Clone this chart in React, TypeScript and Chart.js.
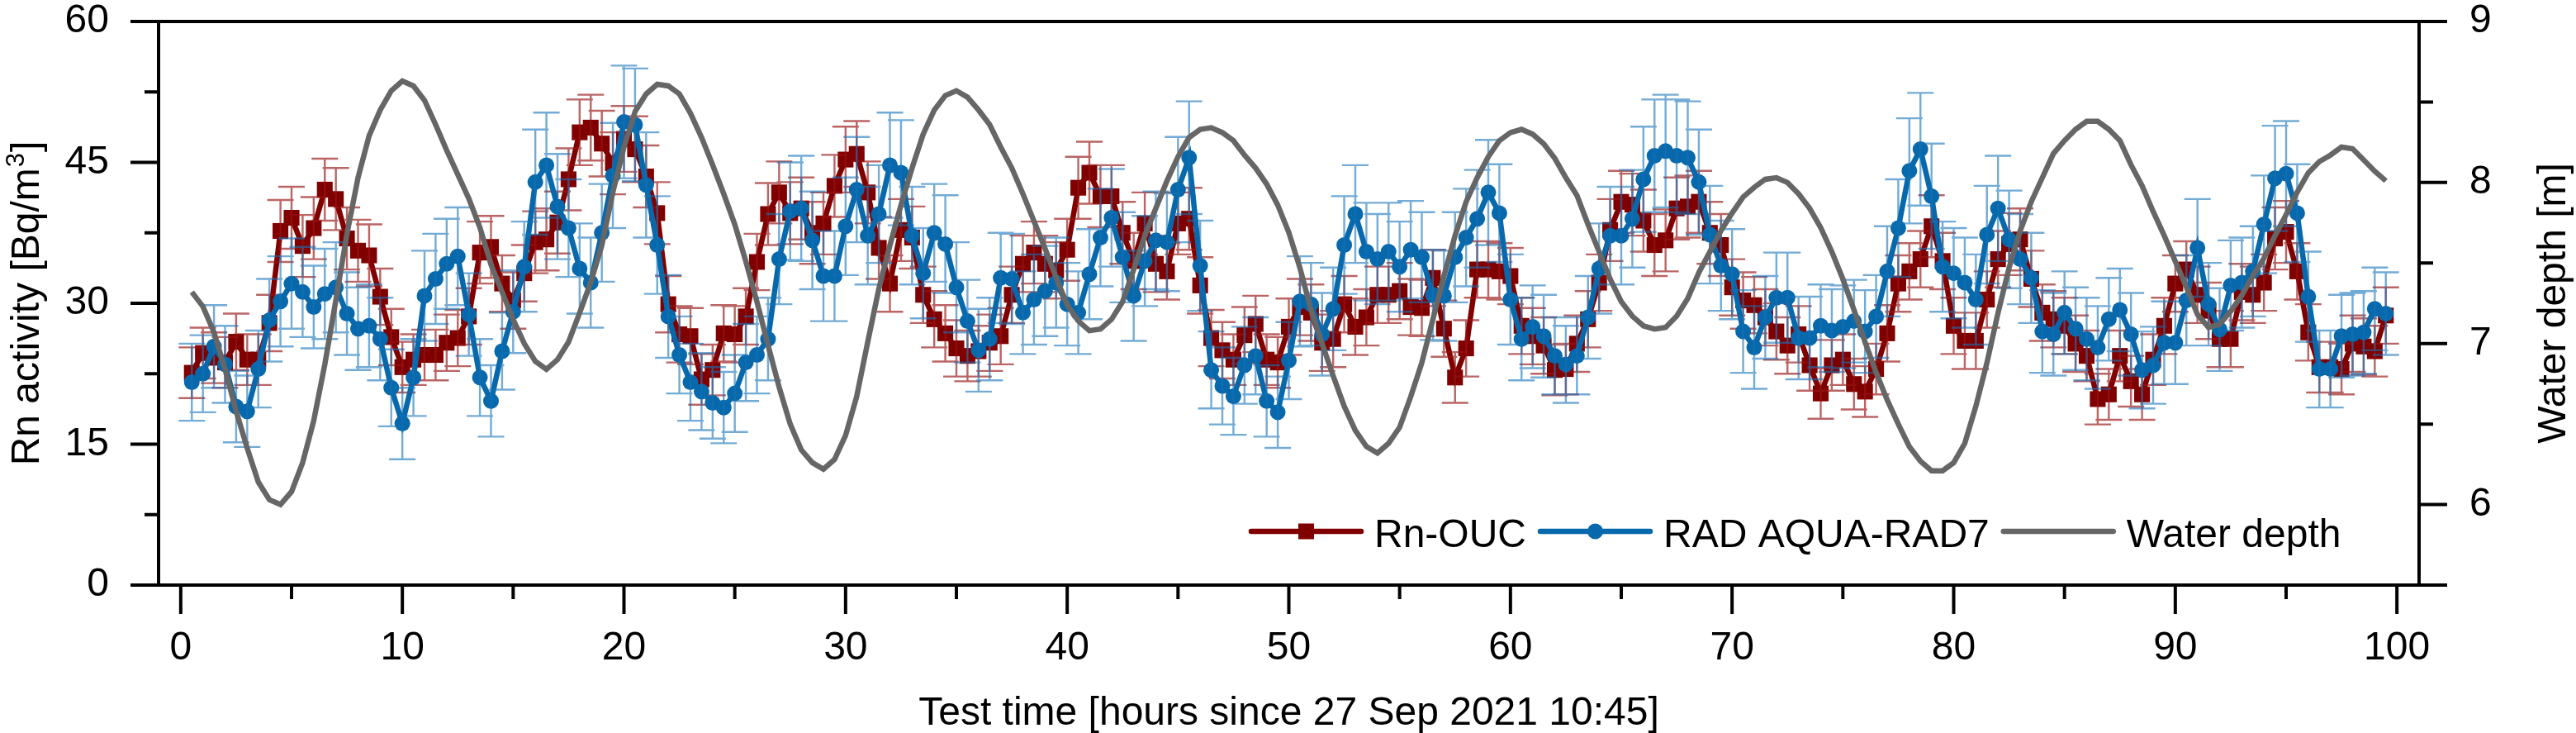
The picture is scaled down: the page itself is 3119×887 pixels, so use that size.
import React, { useEffect, useRef } from "react";
import { Chart, registerables } from "chart.js";

Chart.register(...registerables);

// ---------------- data ----------------
const HOURS = [
  0.5, 1, 1.5, 2, 2.5, 3, 3.5, 4, 4.5, 5,
  5.5, 6, 6.5, 7, 7.5, 8, 8.5, 9, 9.5, 10,
  10.5, 11, 11.5, 12, 12.5, 13, 13.5, 14, 14.5, 15,
  15.5, 16, 16.5, 17, 17.5, 18, 18.5, 19, 19.5, 20,
  20.5, 21, 21.5, 22, 22.5, 23, 23.5, 24, 24.5, 25,
  25.5, 26, 26.5, 27, 27.5, 28, 28.5, 29, 29.5, 30,
  30.5, 31, 31.5, 32, 32.5, 33, 33.5, 34, 34.5, 35,
  35.5, 36, 36.5, 37, 37.5, 38, 38.5, 39, 39.5, 40,
  40.5, 41, 41.5, 42, 42.5, 43, 43.5, 44, 44.5, 45,
  45.5, 46, 46.5, 47, 47.5, 48, 48.5, 49, 49.5, 50,
  50.5, 51, 51.5, 52, 52.5, 53, 53.5, 54, 54.5, 55,
  55.5, 56, 56.5, 57, 57.5, 58, 58.5, 59, 59.5, 60,
  60.5, 61, 61.5, 62, 62.5, 63, 63.5, 64, 64.5, 65,
  65.5, 66, 66.5, 67, 67.5, 68, 68.5, 69, 69.5, 70,
  70.5, 71, 71.5, 72, 72.5, 73, 73.5, 74, 74.5, 75,
  75.5, 76, 76.5, 77, 77.5, 78, 78.5, 79, 79.5, 80,
  80.5, 81, 81.5, 82, 82.5, 83, 83.5, 84, 84.5, 85,
  85.5, 86, 86.5, 87, 87.5, 88, 88.5, 89, 89.5, 90,
  90.5, 91, 91.5, 92, 92.5, 93, 93.5, 94, 94.5, 95,
  95.5, 96, 96.5, 97, 97.5, 98, 98.5, 99, 99.5,
];

const RN_OUC = [
  22.6, 24.7, 24.2, 23.7, 25.9, 24.0, 24.0, 27.9, 37.7, 39.1,
  36.1, 38.0, 42.1, 41.1, 36.9, 35.6, 35.1, 30.7, 26.4, 23.2,
  24.0, 24.5, 24.5, 25.8, 26.3, 28.6, 35.4, 36.0, 32.1, 30.3,
  33.2, 36.5, 36.8, 38.6, 43.2, 48.2, 48.7, 47.0, 44.9, 47.5,
  46.4, 43.5, 39.6, 29.9, 26.7, 26.5, 21.9, 22.9, 26.8, 26.7,
  28.6, 34.4, 39.5, 41.8, 39.6, 40.1, 37.5, 38.5, 42.5, 45.3,
  45.9, 41.8, 35.9, 32.1, 37.8, 37.0, 30.9, 28.3, 26.8, 25.2,
  24.4, 24.9, 25.8, 26.5, 30.9, 34.2, 35.4, 34.2, 33.5, 35.7,
  42.3, 43.9, 41.4, 41.4, 37.5, 34.5, 38.5, 34.2, 33.4, 38.5,
  39.0, 31.9, 26.3, 25.0, 24.0, 26.6, 27.8, 24.0, 23.7, 27.5,
  29.6, 29.0, 25.8, 26.2, 29.9, 27.5, 28.5, 30.9, 30.9, 31.3,
  29.6, 29.5, 32.7, 27.3, 22.1, 25.2, 33.6, 33.6, 33.4, 32.9,
  27.6, 26.5, 25.5, 22.9, 23.0, 25.7, 28.3, 32.2, 37.8, 40.8,
  40.5, 38.8, 36.2, 36.7, 40.1, 40.3, 40.8, 37.5, 36.2, 31.7,
  30.3, 29.8, 28.5, 27.0, 25.5, 26.7, 23.4, 20.4, 23.4, 24.0,
  21.4, 20.6, 23.0, 26.8, 32.1, 33.4, 34.7, 38.2, 34.5, 27.6,
  26.0, 26.0, 30.4, 34.7, 36.3, 36.8, 32.6, 29.0, 28.3, 27.6,
  25.7, 24.4, 19.8, 20.3, 24.4, 21.7, 20.3, 24.0, 27.6, 32.1,
  33.6, 30.9, 29.2, 26.2, 26.2, 31.2, 30.9, 32.2, 36.9, 37.6,
  33.4, 26.9, 23.2, 23.2, 23.0, 25.7, 25.4, 24.9, 28.7,
];

const RN_OUC_ERR = [
  2.7, 2.7, 2.7, 2.7, 3.0, 2.7, 2.7, 3.0, 3.3, 3.3,
  3.3, 3.3, 3.3, 3.3, 3.3, 3.3, 3.3, 3.0, 3.0, 2.7,
  2.7, 2.7, 2.7, 3.0, 3.0, 3.0, 3.3, 3.3, 3.0, 3.0,
  3.0, 3.3, 3.3, 3.3, 3.3, 3.5, 3.5, 3.5, 3.3, 3.5,
  3.5, 3.3, 3.3, 3.0, 3.0, 3.0, 2.7, 2.7, 3.0, 3.0,
  3.0, 3.0, 3.3, 3.3, 3.3, 3.3, 3.3, 3.3, 3.3, 3.5,
  3.5, 3.3, 3.3, 3.0, 3.3, 3.3, 3.0, 3.0, 3.0, 3.0,
  2.7, 2.7, 3.0, 3.0, 3.0, 3.0, 3.3, 3.0, 3.0, 3.3,
  3.3, 3.3, 3.3, 3.3, 3.3, 3.0, 3.3, 3.0, 3.0, 3.3,
  3.3, 3.0, 3.0, 3.0, 2.7, 3.0, 3.0, 2.7, 2.7, 3.0,
  3.0, 3.0, 3.0, 3.0, 3.0, 3.0, 3.0, 3.0, 3.0, 3.0,
  3.0, 3.0, 3.0, 3.0, 2.7, 3.0, 3.0, 3.0, 3.0, 3.0,
  3.0, 3.0, 3.0, 2.7, 2.7, 3.0, 3.0, 3.0, 3.3, 3.3,
  3.3, 3.3, 3.3, 3.3, 3.3, 3.3, 3.3, 3.3, 3.3, 3.0,
  3.0, 3.0, 3.0, 3.0, 3.0, 3.0, 2.7, 2.7, 2.7, 2.7,
  2.7, 2.7, 2.7, 3.0, 3.0, 3.0, 3.0, 3.3, 3.0, 3.0,
  3.0, 3.0, 3.0, 3.0, 3.3, 3.3, 3.0, 3.0, 3.0, 3.0,
  3.0, 2.7, 2.7, 2.7, 2.7, 2.7, 2.7, 2.7, 3.0, 3.0,
  3.0, 3.0, 3.0, 3.0, 3.0, 3.0, 3.0, 3.0, 3.3, 3.3,
  3.0, 3.0, 2.7, 2.7, 2.7, 3.0, 3.0, 2.7, 3.0,
];

const RAD7 = [
  21.6, 22.5, 25.4, 23.5, 19.0, 18.5, 23.0, 28.2, 30.2, 32.1,
  31.2, 29.6, 31.0, 31.7, 28.9, 27.3, 27.6, 26.2, 21.0, 17.2,
  22.1, 30.8, 32.6, 34.2, 35.0, 28.8, 22.1, 19.6, 24.9, 29.1,
  33.9, 42.9, 44.7, 40.3, 38.0, 33.7, 32.2, 37.5, 43.6, 49.3,
  49.0, 42.6, 36.2, 28.6, 24.5, 21.6, 20.6, 19.4, 18.9, 20.4,
  23.7, 24.5, 26.2, 34.7, 39.8, 40.1, 36.7, 32.9, 32.9, 38.2,
  42.1, 37.2, 39.5, 44.7, 43.9, 37.2, 33.2, 37.5, 36.3, 31.7,
  28.1, 25.0, 26.2, 32.7, 32.6, 29.0, 30.4, 31.3, 32.2, 29.9,
  29.0, 33.1, 37.0, 39.1, 34.9, 30.8, 34.5, 36.7, 36.5, 42.1,
  45.5, 34.0, 22.9, 21.2, 20.1, 23.4, 24.4, 19.6, 18.4, 23.9,
  30.2, 29.9, 26.7, 29.4, 36.2, 39.5, 35.5, 34.7, 35.5, 33.9,
  35.7, 34.9, 30.9, 30.8, 34.9, 37.0, 39.0, 41.8, 39.6, 30.4,
  26.2, 27.5, 26.5, 24.4, 23.5, 24.4, 28.5, 33.7, 37.2, 37.2,
  39.0, 43.2, 45.7, 46.2, 45.7, 45.5, 42.9, 37.3, 34.0, 33.1,
  27.0, 25.3, 28.5, 30.6, 30.6, 26.3, 26.3, 27.6, 27.1, 27.5,
  28.1, 27.0, 28.6, 33.4, 38.0, 44.1, 46.4, 41.4, 33.9, 33.2,
  32.2, 30.4, 37.3, 40.1, 36.8, 34.7, 32.7, 27.0, 26.7, 29.0,
  27.3, 26.2, 25.3, 28.3, 29.3, 26.7, 22.9, 23.4, 25.8, 25.8,
  30.3, 35.9, 29.9, 27.2, 31.9, 32.2, 33.4, 38.4, 43.3, 43.8,
  39.6, 30.7, 23.0, 23.0, 26.5, 26.7, 26.9, 29.4, 28.9,
];

const RAD7_ERR = [
  4.1, 4.1, 4.4, 4.1, 3.8, 3.8, 4.1, 4.4, 4.8, 4.8,
  4.8, 4.4, 4.8, 4.8, 4.4, 4.4, 4.4, 4.4, 4.1, 3.8,
  4.1, 4.8, 4.8, 4.8, 5.2, 4.4, 4.1, 3.8, 4.1, 4.4,
  4.8, 5.6, 5.6, 5.6, 5.2, 4.8, 4.8, 5.2, 5.6, 6.0,
  6.0, 5.6, 5.2, 4.4, 4.1, 4.1, 4.1, 3.8, 3.8, 4.1,
  4.1, 4.1, 4.4, 4.8, 5.2, 5.6, 5.2, 4.8, 4.8, 5.2,
  5.6, 5.2, 5.2, 5.6, 5.6, 5.2, 4.8, 5.2, 5.2, 4.8,
  4.4, 4.4, 4.4, 4.8, 4.8, 4.4, 4.8, 4.8, 4.8, 4.4,
  4.4, 4.8, 5.2, 5.2, 4.8, 4.8, 4.8, 5.2, 5.2, 5.6,
  6.0, 4.8, 4.1, 4.1, 4.1, 4.1, 4.1, 3.8, 3.8, 4.1,
  4.8, 4.4, 4.4, 4.4, 5.2, 5.2, 5.2, 4.8, 5.2, 4.8,
  5.2, 4.8, 4.8, 4.8, 4.8, 5.2, 5.2, 5.6, 5.2, 4.8,
  4.4, 4.4, 4.4, 4.1, 4.1, 4.1, 4.4, 4.8, 5.2, 5.2,
  5.2, 5.6, 6.0, 6.0, 6.0, 6.0, 5.6, 5.2, 4.8, 4.8,
  4.4, 4.4, 4.4, 4.8, 4.8, 4.4, 4.4, 4.4, 4.4, 4.4,
  4.4, 4.4, 4.4, 4.8, 5.2, 5.6, 6.0, 5.6, 4.8, 4.8,
  4.8, 4.8, 5.2, 5.6, 5.2, 4.8, 4.8, 4.4, 4.4, 4.4,
  4.4, 4.4, 4.4, 4.4, 4.4, 4.4, 4.1, 4.1, 4.4, 4.4,
  4.8, 5.2, 4.4, 4.4, 4.8, 4.8, 4.8, 5.2, 5.6, 5.6,
  5.2, 4.8, 4.1, 4.1, 4.4, 4.4, 4.4, 4.4, 4.4,
];

const WATER_DEPTH = [
  7.32, 7.23, 7.07, 6.84, 6.58, 6.35, 6.14, 6.03, 6.00, 6.08,
  6.26, 6.52, 6.87, 7.27, 7.68, 8.03, 8.29, 8.45, 8.57, 8.63,
  8.60, 8.51, 8.36, 8.20, 8.05, 7.90, 7.72, 7.49, 7.32, 7.15,
  7.00, 6.89, 6.84, 6.90, 7.01, 7.19, 7.38, 7.61, 7.94, 8.22,
  8.44, 8.55, 8.61, 8.60, 8.55, 8.43, 8.28, 8.11, 7.93, 7.74,
  7.51, 7.26, 6.99, 6.73, 6.50, 6.34, 6.26, 6.22, 6.28, 6.43,
  6.67, 7.01, 7.34, 7.61, 7.86, 8.09, 8.30, 8.45, 8.54, 8.57,
  8.53, 8.45, 8.36, 8.22, 8.09, 7.93, 7.76, 7.59, 7.41, 7.24,
  7.14, 7.08, 7.09, 7.15, 7.26, 7.46, 7.67, 7.84, 8.01, 8.16,
  8.28, 8.33, 8.34, 8.31, 8.26, 8.17, 8.09, 7.99, 7.86, 7.69,
  7.47, 7.21, 7.00, 6.80, 6.61, 6.46, 6.36, 6.32, 6.38, 6.48,
  6.67, 6.88, 7.15, 7.42, 7.67, 7.88, 8.03, 8.16, 8.26, 8.31,
  8.33, 8.30, 8.24, 8.15, 8.03, 7.92, 7.74, 7.57, 7.40, 7.26,
  7.17, 7.11, 7.09, 7.10, 7.17, 7.28, 7.44, 7.57, 7.70, 7.81,
  7.91, 7.97, 8.02, 8.03, 8.00, 7.93, 7.84, 7.72, 7.57, 7.40,
  7.21, 7.01, 6.82, 6.65, 6.50, 6.36, 6.27, 6.21, 6.21, 6.26,
  6.38, 6.61, 6.88, 7.19, 7.47, 7.70, 7.88, 8.03, 8.18, 8.26,
  8.33, 8.38, 8.38, 8.33, 8.26, 8.11, 7.98, 7.82, 7.67, 7.51,
  7.35, 7.18, 7.10, 7.12, 7.20, 7.30, 7.42, 7.53, 7.67, 7.80,
  7.94, 8.06, 8.13, 8.17, 8.22, 8.21, 8.14, 8.07, 8.01,
];

const SERIES_NAMES = ["Rn-OUC", "RAD AQUA-RAD7", "Water depth"];

const X_MAJOR_TICKS = [0, 10, 20, 30, 40, 50, 60, 70, 80, 90, 100];
const X_MINOR_TICKS = [5, 15, 25, 35, 45, 55, 65, 75, 85, 95];
const Y_MAJOR_TICKS = [0, 15, 30, 45, 60];
const Y_MINOR_TICKS = [7.5, 22.5, 37.5, 52.5];
const Y2_MAJOR_TICKS = [6, 7, 8, 9];
const Y2_MINOR_TICKS = [6.5, 7.5, 8.5];

const X_TITLE = "Test time [hours since 27 Sep 2021 10:45]";
const Y_TITLE_MAIN = "Rn activity [Bq/m";
const Y_TITLE_SUP = "3";
const Y_TITLE_END = "]";
const Y2_TITLE = "Water depth [m]";

// ---------------- styling ----------------
const W = 3119;
const H = 887;
const FONT = "'Liberation Sans', Arial, Helvetica, sans-serif";
const RED = "#800000";
const BLUE = "#0768ab";
const GRAY = "#666666";
const RED_ERR = "rgba(150, 20, 20, 0.66)";
const BLUE_ERR = "rgba(20, 115, 185, 0.6)";

const errorBarsPlugin = {
  id: "errorBars",
  afterDatasetDraw(chart: any, args: any) {
    const ds: any = chart.data.datasets[args.index];
    if (!ds.errors) return;
    const ctx = chart.ctx;
    const xs = chart.scales.x;
    const ys = chart.scales[ds.yAxisID];
    const cap = 16;
    ctx.save();
    ctx.strokeStyle = ds.errorColor;
    ctx.lineWidth = 2.4;
    ctx.beginPath();
    ds.data.forEach((p: any, i: number) => {
      const e = ds.errors[i];
      const x = xs.getPixelForValue(p.x);
      const yt = ys.getPixelForValue(p.y + e);
      const yb = ys.getPixelForValue(p.y - e);
      ctx.moveTo(x, yt);
      ctx.lineTo(x, yb);
      ctx.moveTo(x - cap, yt);
      ctx.lineTo(x + cap, yt);
      ctx.moveTo(x - cap, yb);
      ctx.lineTo(x + cap, yb);
    });
    ctx.stroke();
    ctx.restore();
  },
};

const framePlugin = {
  id: "frameTicksTitlesLegend",
  afterDraw(chart: any) {
    const ctx = chart.ctx;
    const { left, right, top, bottom } = chart.chartArea;
    const xs = chart.scales.x;
    const ys = chart.scales.y;
    const y2 = chart.scales.y1;
    const MAJ = 34;
    const MIN = 17;
    ctx.save();
    ctx.strokeStyle = "#000";
    ctx.lineWidth = 4;
    ctx.lineCap = "butt";
    ctx.beginPath();
    ctx.moveTo(left - MAJ, top);
    ctx.lineTo(right + MAJ, top);
    ctx.moveTo(left - MAJ, bottom);
    ctx.lineTo(right + MAJ, bottom);
    ctx.moveTo(left, top - 2);
    ctx.lineTo(left, bottom + 2);
    ctx.moveTo(right, top - 2);
    ctx.lineTo(right, bottom + 2);
    Y_MAJOR_TICKS.forEach((v) => {
      const y = ys.getPixelForValue(v);
      ctx.moveTo(left - MAJ, y);
      ctx.lineTo(left, y);
    });
    Y_MINOR_TICKS.forEach((v) => {
      const y = ys.getPixelForValue(v);
      ctx.moveTo(left - MIN, y);
      ctx.lineTo(left, y);
    });
    Y2_MAJOR_TICKS.forEach((v) => {
      const y = y2.getPixelForValue(v);
      ctx.moveTo(right, y);
      ctx.lineTo(right + MAJ, y);
    });
    Y2_MINOR_TICKS.forEach((v) => {
      const y = y2.getPixelForValue(v);
      ctx.moveTo(right, y);
      ctx.lineTo(right + MIN, y);
    });
    X_MAJOR_TICKS.forEach((v) => {
      const x = xs.getPixelForValue(v);
      ctx.moveTo(x, bottom);
      ctx.lineTo(x, bottom + MAJ + 1);
    });
    X_MINOR_TICKS.forEach((v) => {
      const x = xs.getPixelForValue(v);
      ctx.moveTo(x, bottom);
      ctx.lineTo(x, bottom + MIN);
    });
    ctx.stroke();

    ctx.fillStyle = "#000";
    ctx.font = `48px ${FONT}`;
    ctx.textBaseline = "alphabetic";
    ctx.textAlign = "center";
    ctx.fillText(X_TITLE, (left + right) / 2, 877);

    const midY = (top + bottom) / 2;
    ctx.save();
    ctx.translate(47, midY);
    ctx.rotate(-Math.PI / 2);
    ctx.textAlign = "left";
    ctx.font = `48px ${FONT}`;
    const wMain = ctx.measureText(Y_TITLE_MAIN).width;
    const wEnd = ctx.measureText(Y_TITLE_END).width;
    ctx.font = `31px ${FONT}`;
    const wSup = ctx.measureText(Y_TITLE_SUP).width;
    const total = wMain + wSup + wEnd + 2;
    let tx = -total / 2;
    ctx.font = `48px ${FONT}`;
    ctx.fillText(Y_TITLE_MAIN, tx, 0);
    tx += wMain + 1;
    ctx.font = `31px ${FONT}`;
    ctx.fillText(Y_TITLE_SUP, tx, -18);
    tx += wSup + 1;
    ctx.font = `48px ${FONT}`;
    ctx.fillText(Y_TITLE_END, tx, 0);
    ctx.restore();

    ctx.save();
    ctx.translate(3106, midY);
    ctx.rotate(-Math.PI / 2);
    ctx.textAlign = "center";
    ctx.font = `48px ${FONT}`;
    ctx.fillText(Y2_TITLE, 0, 0);
    ctx.restore();

    const legendY = bottom - 65;
    let lx = left + 1320;
    const lineLen = 139;
    const items = [
      { name: SERIES_NAMES[0], color: RED, marker: "rect" },
      { name: SERIES_NAMES[1], color: BLUE, marker: "circle" },
      { name: SERIES_NAMES[2], color: GRAY, marker: "" },
    ];
    ctx.font = `48px ${FONT}`;
    ctx.textAlign = "left";
    ctx.textBaseline = "alphabetic";
    items.forEach((it) => {
      ctx.strokeStyle = it.color;
      ctx.lineWidth = 6.5;
      ctx.lineCap = "round";
      ctx.beginPath();
      ctx.moveTo(lx + 3, legendY);
      ctx.lineTo(lx + lineLen - 3, legendY);
      ctx.stroke();
      const cx = lx + lineLen / 2;
      ctx.fillStyle = it.color;
      if (it.marker === "rect") {
        ctx.fillRect(cx - 9.5, legendY - 9.5, 19, 19);
      } else if (it.marker === "circle") {
        ctx.beginPath();
        ctx.arc(cx, legendY, 9.5, 0, Math.PI * 2);
        ctx.fill();
      }
      ctx.fillStyle = "#000";
      const textX = lx + lineLen + 13;
      ctx.fillText(it.name, textX, legendY + 19);
      lx = textX + ctx.measureText(it.name).width + 14;
    });
    ctx.restore();
  },
};

function toPoints(values: number[]) {
  return HOURS.map((h, i) => ({ x: h, y: values[i] }));
}

export default function App() {
  const canvasRef = useRef<HTMLCanvasElement | null>(null);

  useEffect(() => {
    document.body.style.margin = "0";
    document.body.style.background = "#ffffff";
    const canvas = canvasRef.current;
    if (!canvas) return;

    const tickFont = { size: 48, family: FONT, lineHeight: 1 };

    const chart = new Chart(canvas, {
      type: "line",
      data: {
        datasets: [
          {
            label: SERIES_NAMES[2],
            data: toPoints(WATER_DEPTH),
            yAxisID: "y1",
            borderColor: GRAY,
            backgroundColor: GRAY,
            borderWidth: 6.5,
            pointRadius: 0,
            tension: 0,
            order: 0,
          },
          {
            label: SERIES_NAMES[1],
            data: toPoints(RAD7),
            yAxisID: "y",
            borderColor: BLUE,
            backgroundColor: BLUE,
            borderWidth: 6.5,
            pointStyle: "circle",
            pointRadius: 9.5,
            pointBorderWidth: 0,
            pointBackgroundColor: BLUE,
            tension: 0,
            order: 1,
            errors: RAD7_ERR,
            errorColor: BLUE_ERR,
          } as any,
          {
            label: SERIES_NAMES[0],
            data: toPoints(RN_OUC),
            yAxisID: "y",
            borderColor: RED,
            backgroundColor: RED,
            borderWidth: 6.5,
            pointStyle: "rect",
            pointRadius: 13.5,
            pointBorderWidth: 0,
            pointBackgroundColor: RED,
            tension: 0,
            order: 2,
            errors: RN_OUC_ERR,
            errorColor: RED_ERR,
          } as any,
        ],
      },
      options: {
        responsive: false,
        maintainAspectRatio: false,
        animation: false,
        events: [],
        layout: { padding: { top: 26, left: 0, right: 0, bottom: 0 } },
        plugins: {
          legend: { display: false },
          tooltip: { enabled: false },
          title: { display: false },
        },
        scales: {
          x: {
            type: "linear",
            position: "bottom",
            min: -1,
            max: 101,
            grid: { display: false, drawTicks: false },
            border: { display: false },
            afterBuildTicks: (s: any) => {
              s.ticks = X_MAJOR_TICKS.map((v) => ({ value: v }));
            },
            afterFit: (s: any) => {
              s.height = H - 708;
              s.paddingLeft = 0;
              s.paddingRight = 0;
            },
            ticks: {
              color: "#000",
              font: tickFont,
              padding: 53,
              autoSkip: false,
              maxRotation: 0,
              minRotation: 0,
            },
          },
          y: {
            type: "linear",
            position: "left",
            min: 0,
            max: 60,
            grid: { display: false, drawTicks: false },
            border: { display: false },
            afterBuildTicks: (s: any) => {
              s.ticks = Y_MAJOR_TICKS.map((v) => ({ value: v }));
            },
            afterFit: (s: any) => {
              s.width = 192;
              s.paddingTop = 0;
              s.paddingBottom = 0;
            },
            ticks: { color: "#000", font: tickFont, padding: 60, autoSkip: false },
          },
          y1: {
            type: "linear",
            position: "right",
            min: 5.5,
            max: 9,
            grid: { display: false, drawTicks: false },
            border: { display: false },
            afterBuildTicks: (s: any) => {
              s.ticks = Y2_MAJOR_TICKS.map((v) => ({ value: v }));
            },
            afterFit: (s: any) => {
              s.width = W - 2929;
              s.paddingTop = 0;
              s.paddingBottom = 0;
            },
            ticks: { color: "#000", font: tickFont, padding: 61, autoSkip: false },
          },
        },
      },
      plugins: [errorBarsPlugin, framePlugin],
    } as any);

    return () => {
      chart.destroy();
    };
  }, []);

  return (
    <div style={{ width: W, height: H, background: "#fff", overflow: "hidden" }}>
      <canvas ref={canvasRef} width={W} height={H} style={{ display: "block", width: W, height: H }} />
    </div>
  );
}
